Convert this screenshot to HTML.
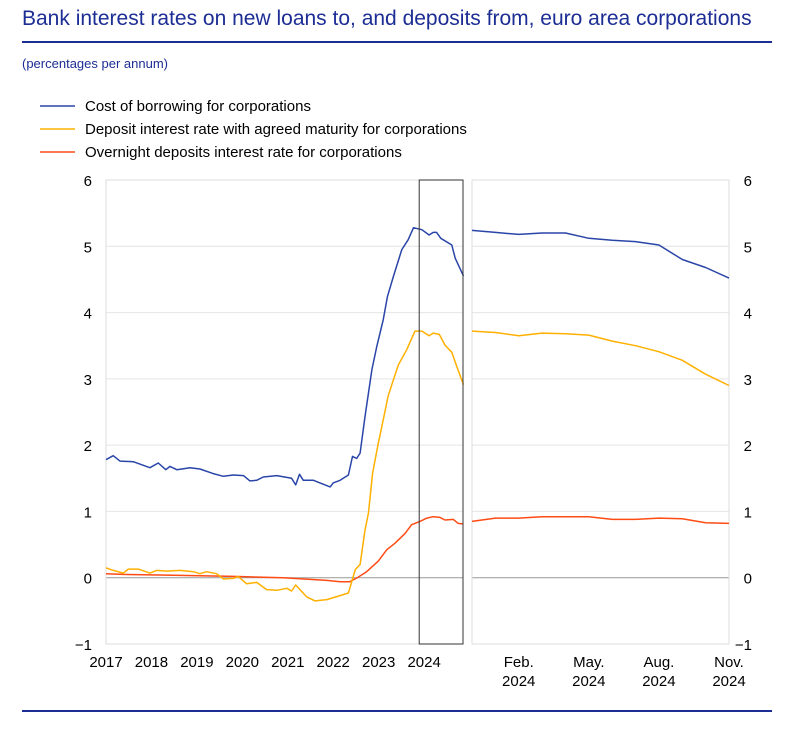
<!DOCTYPE html>
<html><head><meta charset="utf-8">
<style>
body{margin:0;width:794px;height:733px;background:#fff;font-family:"Liberation Sans",sans-serif;overflow:hidden}
</style></head>
<body>
<svg width="794" height="733" xmlns="http://www.w3.org/2000/svg">
<text x="22" y="25" font-size="21" fill="#1c2d94" font-family="Liberation Sans, sans-serif">Bank interest rates on new loans to, and deposits from, euro area corporations</text>
<line x1="22" y1="42" x2="772" y2="42" stroke="#1c2d94" stroke-width="2"/>
<text x="22" y="68" font-size="13" fill="#1c2d94">(percentages per annum)</text>
<g id="legend"></g>
<g id="left"></g>
<g id="right"></g>
<line x1="22" y1="711" x2="772" y2="711" stroke="#1c2d94" stroke-width="2"/>
</svg>
<script>
const seriesNames=["Cost of borrowing for corporations","Deposit interest rate with agreed maturity for corporations","Overnight deposits interest rate for corporations"];
const seriesColors=["#2a45a8","#ffb000","#ff4b14"];
const yTicks=[-1,0,1,2,3,4,5,6];
const yearLabels=["2017","2018","2019","2020","2021","2022","2023","2024"];
const rightLabels=["Feb.","May.","Aug.","Nov."];
const rightLabelMonths=[2,5,8,11];
// months since Jan 2017
const blueMonths=[0,1.9,3.7,7.2,11.6,13.8,15.8,16.9,18.7,22.2,24.8,28.3,31,33.6,36.3,38,39.8,41.5,45.1,49,50.1,51.1,52.1,54.8,56.5,59.2,60,61.8,64,65.1,66.2,67.1,68.4,70.2,71.5,73.2,74.3,75.9,78.1,79.8,81.2,83.4,85.3,86.4,87.3,88.4,91.3,92.2,94.4];
const blueValues=[1.78,1.84,1.76,1.75,1.66,1.73,1.63,1.68,1.63,1.66,1.64,1.57,1.53,1.55,1.54,1.46,1.47,1.52,1.54,1.50,1.40,1.56,1.47,1.47,1.43,1.37,1.43,1.47,1.55,1.83,1.80,1.88,2.43,3.14,3.49,3.89,4.24,4.55,4.95,5.10,5.28,5.25,5.17,5.21,5.21,5.12,5.02,4.82,4.55];
const yellowMonths=[0,1.9,4.6,5.9,8.5,11.6,13.4,16,19.5,23.1,24.8,26.6,29.2,31,33.6,34.9,37.1,39.8,42.4,45.1,47.7,49,50.1,53,55.2,58.3,61.8,64,65.8,67.1,68.4,69.3,70.4,71.9,73.2,74.5,75.9,77.2,79.4,81.6,83.4,85.3,86.4,88,89.5,91.3,92.6,94.4];
const yellowValues=[0.15,0.11,0.07,0.13,0.13,0.07,0.11,0.10,0.11,0.09,0.06,0.09,0.06,-0.02,-0.01,0.02,-0.09,-0.07,-0.18,-0.19,-0.16,-0.20,-0.11,-0.29,-0.35,-0.33,-0.27,-0.23,0.12,0.20,0.72,0.98,1.58,2.03,2.38,2.74,2.99,3.21,3.44,3.72,3.72,3.65,3.69,3.67,3.51,3.40,3.19,2.91];
const redMonths=[0,4.6,16,33.6,46.8,58.3,61.8,64.4,66.6,68.8,71.9,74.1,76.3,79,80.7,82.9,84.7,86.4,88.2,89.5,91.7,93,94.4];
const redValues=[0.06,0.05,0.04,0.02,0.00,-0.04,-0.06,-0.06,0.01,0.09,0.25,0.42,0.52,0.67,0.80,0.85,0.90,0.92,0.91,0.87,0.88,0.82,0.81];
// right panel: Dec 2023 .. Nov 2024 (0..11)
const rightBlue=[5.24,5.21,5.18,5.20,5.20,5.12,5.09,5.07,5.02,4.80,4.68,4.52];
const rightYellow=[3.72,3.70,3.65,3.69,3.68,3.66,3.57,3.50,3.41,3.28,3.07,2.90];
const rightRed=[0.85,0.90,0.90,0.92,0.92,0.92,0.88,0.88,0.90,0.89,0.83,0.82];

const NS="http://www.w3.org/2000/svg";
function mk(tag,attrs,parent){const e=document.createElementNS(NS,tag);for(const k in attrs)e.setAttribute(k,attrs[k]);parent.appendChild(e);return e;}
const yTop=180,yBot=644,yMin=-1,yMax=6;
function Y(v){return yBot-(v-yMin)/(yMax-yMin)*(yBot-yTop);}
const L0=106,L1=463,R0=472,R1=729;
function XL(m){return L0+m*(L1-1-L0)/94;}
function XR(i){return R0+i*(R1-R0)/11;}

const leg=document.getElementById('legend');
seriesNames.forEach((n,i)=>{
  const yy=106+i*23;
  const l=mk('line',{x1:40,y1:yy,x2:75,y2:yy,stroke:seriesColors[i],'stroke-width':1.5},leg);
  
  
  const t=mk('text',{x:85,y:yy+5,'font-size':15,fill:'#000'},leg);
  t.textContent=n;
  
  
});

function panel(g,x0,x1){
  yTicks.forEach(v=>{
    const gl=mk('line',{x1:x0,x2:x1,y1:Y(v),y2:Y(v),stroke:v===0?'#999':'#e4e4e4','stroke-width':1},g);
    
    
  });
  const f=mk('rect',{x:x0,y:yTop,width:x1-x0,height:yBot-yTop,fill:'none',stroke:'#ddd','stroke-width':1},g);
  
  
}
const lg=document.getElementById('left'),rg=document.getElementById('right');
panel(lg,L0,L1);panel(rg,R0,R1);
yTicks.forEach(v=>{
  const lab=v<0?'\u2212'+Math.abs(v):String(v);
  const t=mk('text',{x:92,y:Y(v)+6,'font-size':15,'text-anchor':'end'},lg);
  t.textContent=lab;
  
  
  const t2=mk('text',{x:752,y:Y(v)+6,'font-size':15,'text-anchor':'end'},rg);
  t2.textContent=lab;
  
  
});
yearLabels.forEach((s,i)=>{
  const t=mk('text',{x:XL(i*12),y:667,'font-size':15,'text-anchor':'middle'},lg);
  t.textContent=s;
  
  
});
rightLabels.forEach((s,i)=>{
  const x=XR(rightLabelMonths[i]);
  const t=mk('text',{x:x,y:667,'font-size':15,'text-anchor':'middle'},rg);
  t.textContent=s;
  
  
  const t2=mk('text',{x:x,y:686,'font-size':15,'text-anchor':'middle'},rg);
  t2.textContent='2024';
  
  
});
function line(g,xs,vs,fx,c,name){
  const d=xs.map((m,i)=>(i?'L':'M')+fx(m).toFixed(1)+','+Y(vs[i]).toFixed(1)).join('');
  const p=mk('path',{d:d,fill:'none',stroke:c,'stroke-width':1.5,'stroke-linejoin':'round'},g);
  
  
}
line(lg,redMonths,redValues,XL,seriesColors[2],'overnight-line');
line(lg,yellowMonths,yellowValues,XL,seriesColors[1],'deposit-line');
line(lg,blueMonths,blueValues,XL,seriesColors[0],'borrowing-line');
const idx=rightBlue.map((_,i)=>i);
line(rg,idx,rightRed,XR,seriesColors[2],'overnight-line-zoom');
line(rg,idx,rightYellow,XR,seriesColors[1],'deposit-line-zoom');
line(rg,idx,rightBlue,XR,seriesColors[0],'borrowing-line-zoom');
const hb=mk('rect',{x:XL(82.7),y:yTop,width:L1-XL(82.7),height:yBot-yTop,fill:'none',stroke:'#333','stroke-width':1},lg);


</script>
</body></html>
